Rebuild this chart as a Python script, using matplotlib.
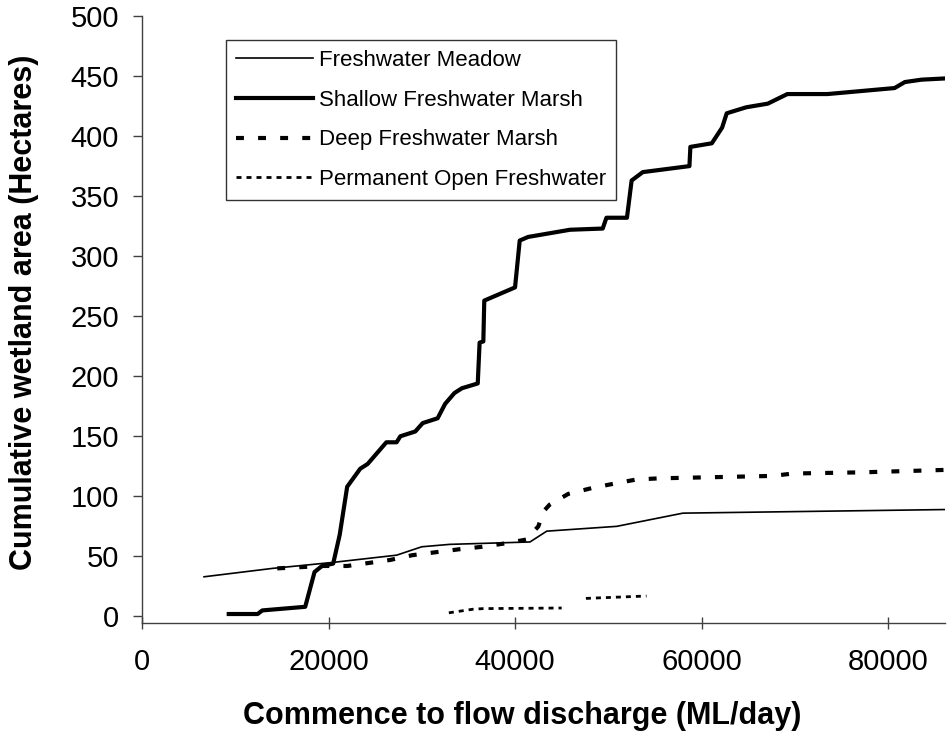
#!/usr/bin/env python3
import numpy as np
import matplotlib
matplotlib.use('Agg')
import matplotlib.pyplot as plt

plt.rcParams['font.family'] = ['Liberation Sans', 'DejaVu Sans']

# Freshwater Meadow
meadow_x = [6650, 14000, 20500, 27300, 30000, 33000, 41600, 43400, 50900, 58000, 86100]
meadow_y = [33, 40, 45, 51, 58, 60, 62, 71, 75, 86, 89]

# Shallow Freshwater Marsh
shallow_x = [9300, 12400, 12900, 17500, 18500, 19300, 20500, 21200, 21400, 22000,
             23400, 24200, 26200, 27300, 27700, 29300, 30100, 31700, 32500, 33500,
             34300, 36000, 36200, 36600, 36700, 40000, 40500, 41400, 45900, 49400,
             49800, 52000, 52500, 53700, 58700, 58800, 61100, 62200, 62700, 64800,
             67100, 69200, 73500, 80700, 81800, 83600, 86100]
shallow_y = [2, 2, 5, 8, 37, 42, 44, 68, 78, 108,
             123, 127, 145, 145, 150, 154, 161, 165, 177, 186,
             190, 194, 228, 229, 263, 274, 313, 316, 322, 323,
             332, 332, 363, 370, 375, 391, 394, 407, 419, 424,
             427, 435, 435, 440, 445, 447, 448]

# Deep Freshwater Marsh
deep_x = [14500, 19400, 22000, 26600, 29000, 34100, 36500, 39100, 41200, 42500,
          43000, 43700, 45700, 48300, 50900, 53000, 55500, 67600, 69800, 77300, 86100]
deep_y = [40, 42, 42, 47, 51, 56, 58, 61, 64, 75,
          87, 93, 102, 107, 111, 114, 115, 117, 119, 120, 122]

# Permanent Open Freshwater (gap in the record between the two groups)
open_x = [32900, 35500, 36600, 45000, np.nan, 47600, 54100]
open_y = [3, 6, 6.5, 7, np.nan, 15, 17]


def main():
    fig = plt.figure(figsize=(9.48, 7.34), dpi=100)
    ax = fig.add_axes([0.1498, 0.1512, 0.847, 0.827])

    ax.plot(meadow_x, meadow_y, color='black', lw=1.2, label='Freshwater Meadow')
    ax.plot(shallow_x, shallow_y, color='black', lw=3.0, solid_joinstyle='round',
            label='Shallow Freshwater Marsh')
    ax.plot(deep_x, deep_y, color='black', lw=3.0, linestyle=(0, (1.9, 3.4)),
            dash_capstyle='butt', label='Deep Freshwater Marsh')
    ax.plot(open_x, open_y, color='black', lw=2.0, linestyle=(0, (1.8, 1.8)),
            dash_capstyle='butt', label='Permanent Open Freshwater')

    ax.set_xlim(0, 86100)
    ax.set_ylim(-5.5, 500)
    ax.set_xticks([0, 20000, 40000, 60000, 80000])
    ax.set_yticks(np.arange(0, 501, 50))

    for s in ['top', 'right']:
        ax.spines[s].set_visible(False)
    for s in ['left', 'bottom']:
        ax.spines[s].set_color('#404040')
        ax.spines[s].set_linewidth(1.0)

    ax.tick_params(axis='y', direction='out', length=6.5, width=1.0, color='#404040',
                   labelsize=21, pad=10)
    ax.tick_params(axis='x', direction='inout', length=8, width=1.0, color='#404040',
                   labelsize=21, pad=14)

    ax.set_xlabel('Commence to flow discharge (ML/day)', fontsize=22, fontweight='bold')
    ax.set_ylabel('Cumulative wetland area (Hectares)', fontsize=22, fontweight='bold')
    ax.xaxis.set_label_coords(0.473, -0.128)
    ax.yaxis.set_label_coords(-0.128, 0.512)

    leg = ax.legend(loc='upper left', bbox_to_anchor=(226 / 948, 1 - 40 / 734),
                    bbox_transform=fig.transFigure, fontsize=16, frameon=True,
                    fancybox=False, edgecolor='black', handlelength=3.45,
                    labelspacing=0.84, borderpad=0.45, handletextpad=0.3,
                    borderaxespad=0)
    leg.get_frame().set_linewidth(1.0)

    fig.savefig('out.png', dpi=100)


if __name__ == '__main__':
    main()
